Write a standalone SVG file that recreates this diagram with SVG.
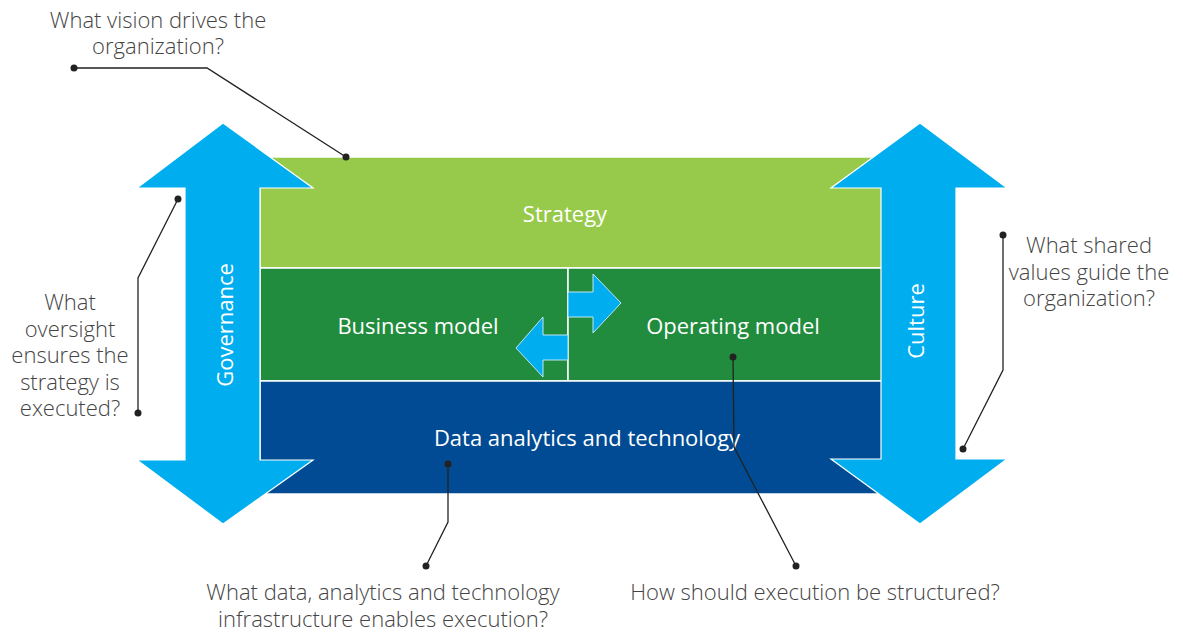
<svg xmlns="http://www.w3.org/2000/svg" width="1183" height="632" viewBox="0 0 1183 632">
<style>
.q{font-family:"Open Sans","Liberation Sans",sans-serif;font-weight:300;font-size:22px;fill:#444;text-anchor:middle}
.w{font-family:"Open Sans","Liberation Sans",sans-serif;font-size:22px;fill:#fff;text-anchor:middle}
.big{fill:#00aeef;stroke:#fff;stroke-width:1.2}
.sm{fill:#00aeef;stroke:#bfe6f7;stroke-width:1}
.layer{stroke:#fff;stroke-width:1.5}
.ln{fill:none;stroke:#222;stroke-width:1.3}
.dot{fill:#222}
</style>
<rect width="1183" height="632" fill="#fff"/>
<g id="strategy">
<rect class="layer" x="260" y="157" width="622" height="111" fill="#97c94a"/>
<text class="w" x="565" y="222">Strategy</text>
</g>
<g id="business-model">
<rect class="layer" x="260" y="268" width="308" height="113" fill="#218c3e"/>
<text class="w" x="418" y="334">Business model</text>
</g>
<g id="operating-model">
<rect class="layer" x="568" y="268" width="314" height="113" fill="#218c3e"/>
<text class="w" x="733" y="334">Operating model</text>
</g>
<g id="data-analytics">
<rect class="layer" x="260" y="381" width="622" height="113" fill="#004b93"/>
<text class="w" x="587" y="446">Data analytics and technology</text>
</g>
<g id="exchange-arrows">
<polygon class="sm" points="568,292 593,292 593,274 621,303 593,333 593,317 568,317"/>
<polygon class="sm" points="568,335 543,335 543,317 516,348 543,377 543,360 568,360"/>
</g>
<g id="governance">
<polygon class="big" points="223,123 313,188 260,188 260,460 313,460 223,524 137,460 185,460 185,188 137,188"/>
<text class="w" transform="translate(233,325) rotate(-90)" x="0" y="0">Governance</text>
</g>
<g id="culture">
<polygon class="big" points="920,123 1007,188 956,188 956,459 1007,459 920,524 831,459 881,459 881,188 831,188"/>
<text class="w" transform="translate(924,321) rotate(-90)" x="0" y="0">Culture</text>
</g>
<g id="connectors">
<polyline class="ln" points="74,68 207,68 346,157"/>
<circle class="dot" cx="74" cy="68" r="3.5"/><circle class="dot" cx="346" cy="157" r="3.5"/>
<polyline class="ln" points="178,199 138,278 138,413"/>
<circle class="dot" cx="178" cy="199" r="3.5"/><circle class="dot" cx="138" cy="413" r="3.5"/>
<polyline class="ln" points="1003,235 1003,370 963,449"/>
<circle class="dot" cx="1003" cy="235" r="3.5"/><circle class="dot" cx="963" cy="449" r="3.5"/>
<polyline class="ln" points="448,464 448,522 426,566"/>
<circle class="dot" cx="448" cy="464" r="3.5"/><circle class="dot" cx="426" cy="566" r="3.5"/>
<polyline class="ln" points="733,357 734,447 796,566"/>
<circle class="dot" cx="733" cy="357" r="3.5"/><circle class="dot" cx="796" cy="566" r="3.5"/>
</g>
<g id="labels">
<text class="q" x="158" y="28">What vision drives the</text>
<text class="q" x="158" y="54">organization?</text>
<text class="q" x="70" y="310">What</text>
<text class="q" x="70" y="337">oversight</text>
<text class="q" x="70" y="363">ensures the</text>
<text class="q" x="70" y="390">strategy is</text>
<text class="q" x="70" y="416">executed?</text>
<text class="q" x="1089" y="253">What shared</text>
<text class="q" x="1089" y="280">values guide the</text>
<text class="q" x="1089" y="306">organization?</text>
<text class="q" x="383" y="600">What data, analytics and technology</text>
<text class="q" x="383" y="627">infrastructure enables execution?</text>
<text class="q" x="815" y="600">How should execution be structured?</text>
</g>
</svg>
